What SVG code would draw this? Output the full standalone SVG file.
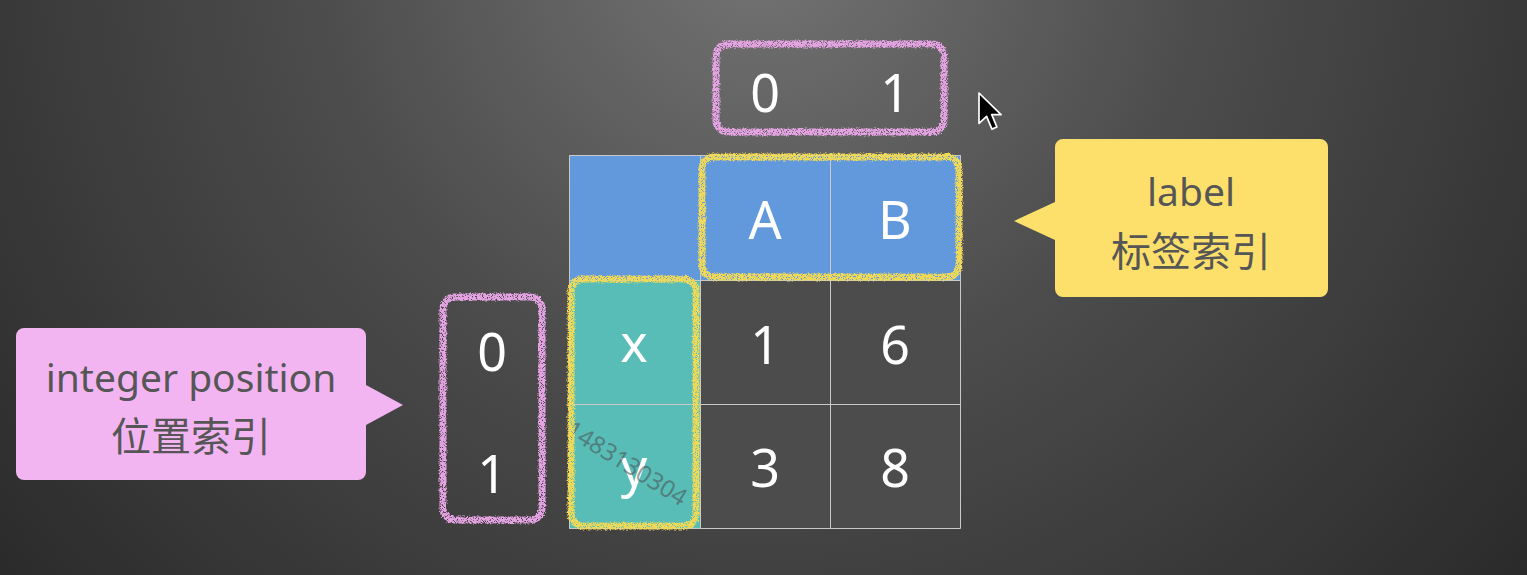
<svg xmlns="http://www.w3.org/2000/svg" width="1527" height="575" viewBox="0 0 1527 575">
<defs>
<radialGradient id="bg" gradientUnits="userSpaceOnUse" cx="760" cy="-60" r="1000">
<stop offset="0" stop-color="#747474"/>
<stop offset="0.45" stop-color="#4c4c4c"/>
<stop offset="1" stop-color="#2a2a2a"/>
</radialGradient>
<filter id="chalk" x="-10%" y="-10%" width="120%" height="120%">
<feTurbulence type="fractalNoise" baseFrequency="0.6" numOctaves="2" seed="3" result="n"/>
<feDisplacementMap in="SourceGraphic" in2="n" scale="4" xChannelSelector="R" yChannelSelector="G" result="d"/>
<feTurbulence type="fractalNoise" baseFrequency="1.2" numOctaves="1" seed="9" result="n2"/>
<feColorMatrix in="n2" type="matrix" values="0 0 0 0 0  0 0 0 0 0  0 0 0 0 0  8 0 0 0 -2.6" result="mask"/>
<feComposite in="d" in2="mask" operator="in"/>
</filter>
<style>
.num{font-family:"Noto Sans","Noto Sans CJK SC",sans-serif;font-size:52px;fill:#ffffff;text-anchor:middle}
.call{font-family:"Noto Sans","Noto Sans CJK SC",sans-serif;font-size:39px;fill:#565656;text-anchor:middle}
.cjk{font-family:"Noto Sans CJK SC",sans-serif;font-size:40px;fill:#565656;text-anchor:middle}
.pinkc{fill:none;stroke:#e6a3e4;stroke-width:7;filter:url(#chalk)}
.yelc{fill:none;stroke:#efd957;stroke-width:7;filter:url(#chalk)}
.grid{stroke:#c9c9c9;stroke-width:1;fill:none}
</style>
</defs>
<rect width="1527" height="575" fill="url(#bg)"/>

<g id="table">
<rect x="569" y="155" width="392" height="125" fill="#6199dc"/>
<rect x="569" y="280" width="131" height="249" fill="#58bdb7"/>
<rect x="700" y="280" width="261" height="249" fill="#4c4c4c"/>
<path class="grid" d="M569.5,155.5H960.5V528.5H569.5Z M700.5,155.5V528.5 M830.5,155.5V528.5 M569.5,280.5H960.5 M569.5,404.5H960.5"/>
<text class="num" x="765" y="239">A</text>
<text class="num" x="895" y="239">B</text>
<text class="num" x="634" y="362">x</text>
<text class="num" x="634" y="486">y</text>
<text class="num" x="765" y="364">1</text>
<text class="num" x="895" y="364">6</text>
<text class="num" x="765" y="487">3</text>
<text class="num" x="895" y="487">8</text>
<text transform="translate(564,434) rotate(32)" font-family="Noto Sans, sans-serif" font-size="24" fill="#4a4a4a" fill-opacity="0.55">1483130304</text>
</g>

<g id="col-positions">
<rect class="pinkc" x="716" y="44" width="228" height="88" rx="12"/>
<text class="num" x="765" y="112">0</text>
<text class="num" x="895" y="112">1</text>
</g>

<g id="col-labels">
<rect class="yelc" x="702" y="157" width="257" height="120" rx="12"/>
</g>

<g id="row-labels">
<rect class="yelc" x="571" y="279" width="125" height="247" rx="12"/>
</g>

<g id="row-positions">
<rect class="pinkc" x="443" y="297" width="99" height="223" rx="12"/>
<text class="num" x="492" y="371">0</text>
<text class="num" x="492" y="493">1</text>
</g>

<g id="callout-position">
<path d="M24,328H358A8,8 0 0 1 366,336V385L403,405L366,425V472A8,8 0 0 1 358,480H24A8,8 0 0 1 16,472V336A8,8 0 0 1 24,328Z" fill="#f2b5f1"/>
<text class="call" x="191" y="392">integer position</text>
<text class="cjk" x="191" y="451">位置索引</text>
</g>

<g id="callout-label">
<path d="M1063,139H1320A8,8 0 0 1 1328,147V289A8,8 0 0 1 1320,297H1063A8,8 0 0 1 1055,289V240L1014,221L1055,202V147A8,8 0 0 1 1063,139Z" fill="#fde06b"/>
<text class="call" x="1191" y="206">label</text>
<text class="cjk" x="1191" y="266">标签索引</text>
</g>

<g id="connectors"/>

<g id="cursor">
<path transform="translate(979,93) scale(1.9)" d="M0,0V16L4,12.3L6.8,19L9.4,17.9L6.7,11.4H11.6Z" fill="#000" stroke="#fff" stroke-width="0.9" stroke-linejoin="round"/>
</g>
</svg>
